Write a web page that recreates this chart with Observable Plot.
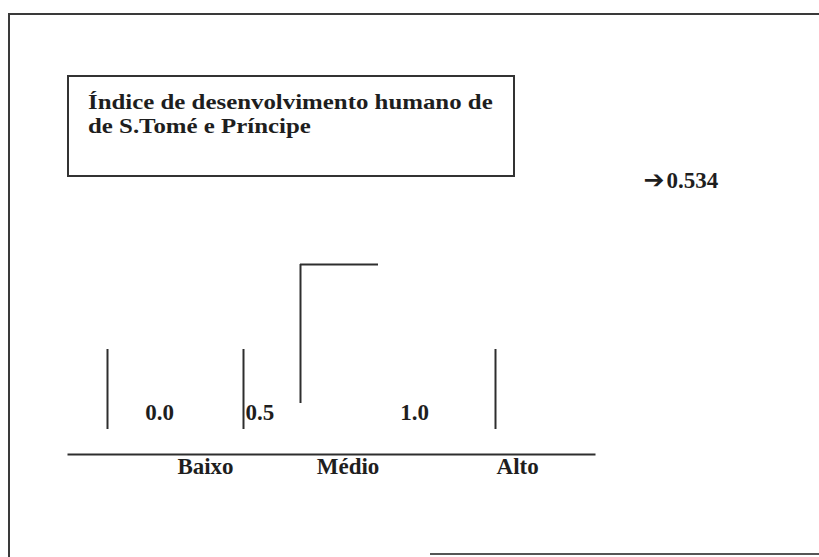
<!DOCTYPE html>
<html>
<head>
<meta charset="utf-8">
<script src="https://cdn.jsdelivr.net/npm/d3@7"></script>
<script src="https://cdn.jsdelivr.net/npm/@observablehq/plot@0.6"></script>
<style>
  html, body { margin: 0; padding: 0; background: #fff; }
  #page { position: relative; width: 819px; height: 557px; overflow: hidden; background: #fff; }
  .edge { position: absolute; background: #3a3a3a; }
  #titlebox {
    position: absolute; left: 67px; top: 75px; width: 444px; height: 98px;
    border: 2px solid #333; box-sizing: content-box;
    font-family: "Liberation Serif", "Times New Roman", serif; font-weight: bold;
    font-size: 22px; line-height: 24px; color: #1e1e1e;
  }
  #titlebox .t { position: absolute; left: 19px; top: 13px; transform: scaleX(1.13); transform-origin: left top; white-space: nowrap; }
  #chart { position: absolute; left: 0; top: 0; }
</style>
</head>
<body>
<div id="page">
  <div class="edge" style="left:8px; top:14px; width:2px; height:543px;"></div>
  <div class="edge" style="left:8px; top:13px; width:811px; height:2px;"></div>
  <div class="edge" style="left:430px; top:553px; width:389px; height:2px; background:#555;"></div>
  <div id="titlebox"><div class="t">Índice de desenvolvimento humano de<br>de S.Tomé e Príncipe</div></div>
  <div id="chart"></div>
</div>
<script>
// ---- data ----
const tickValues = [0, 0.5, 1];
const tickLabels = ["0.0", "0.5", "1.0"];
const categories = ["Baixo", "Médio", "Alto"];
const categoryMid = [0.25, 0.65, 0.9];
const hdiValue = 0.534;

// ---- styles / offsets ----
const ink = "#2e2e2e";
const tickLabelDx = [52, 2, -81];
const tickLabelAnchor = ["middle", "start", "middle"];
const categoryDx = [30, -1, 64];

const marks = [
  Plot.frame({anchor: "bottom", stroke: ink, strokeWidth: 2}),
  Plot.ruleX(tickValues, {x: d => d, stroke: ink, strokeWidth: 2, insetTop: 85, insetBottom: 25}),
  Plot.ruleX([hdiValue], {x: d => d, stroke: ink, strokeWidth: 2, insetBottom: 51}),
  Plot.ruleY([hdiValue], {y: () => 1, x1: d => d, x2: d => d, stroke: ink, strokeWidth: 2, insetRight: -78}),
  ...tickValues.map((v, i) => Plot.text([tickLabels[i]], {
    x: () => v, text: d => d, frameAnchor: "bottom", lineAnchor: "bottom",
    textAnchor: tickLabelAnchor[i], dx: tickLabelDx[i], dy: -35,
    fontSize: 23, fontWeight: "bold", fill: "#1e1e1e"
  })),
  ...categories.map((c, i) => Plot.text([c], {
    x: () => categoryMid[i], text: d => d, frameAnchor: "bottom", lineAnchor: "bottom",
    textAnchor: "middle", dx: categoryDx[i], dy: 19,
    fontSize: 23, fontWeight: "bold", fill: "#1e1e1e"
  })),
  Plot.text([hdiValue], {
    x: d => d, text: () => "➔", frameAnchor: "top", lineAnchor: "bottom",
    textAnchor: "end", dx: 364, dy: -77, fontFamily: "DejaVu Sans",
    fontSize: 25, fontWeight: "bold", fill: "#1e1e1e"
  }),
  Plot.text([hdiValue], {
    x: d => d, text: d => d.toFixed(3), frameAnchor: "top", lineAnchor: "bottom",
    textAnchor: "start", dx: 366, dy: -77,
    fontSize: 23, fontWeight: "bold", fill: "#1e1e1e"
  })
];

const chart = Plot.plot({
  width: 819,
  height: 557,
  marginTop: 264,
  marginBottom: 103,
  marginLeft: 68,
  marginRight: 225,
  x: {type: "linear", domain: [0, 0.5, hdiValue, 1], range: [107, 243, 300, 495], axis: null},
  y: {type: "linear", domain: [0, 1], axis: null},
  style: {fontFamily: "'Liberation Serif', 'Times New Roman', serif", background: "transparent", color: "#222", overflow: "visible"},
  marks
});
document.getElementById("chart").appendChild(chart);
</script>
</body>
</html>
